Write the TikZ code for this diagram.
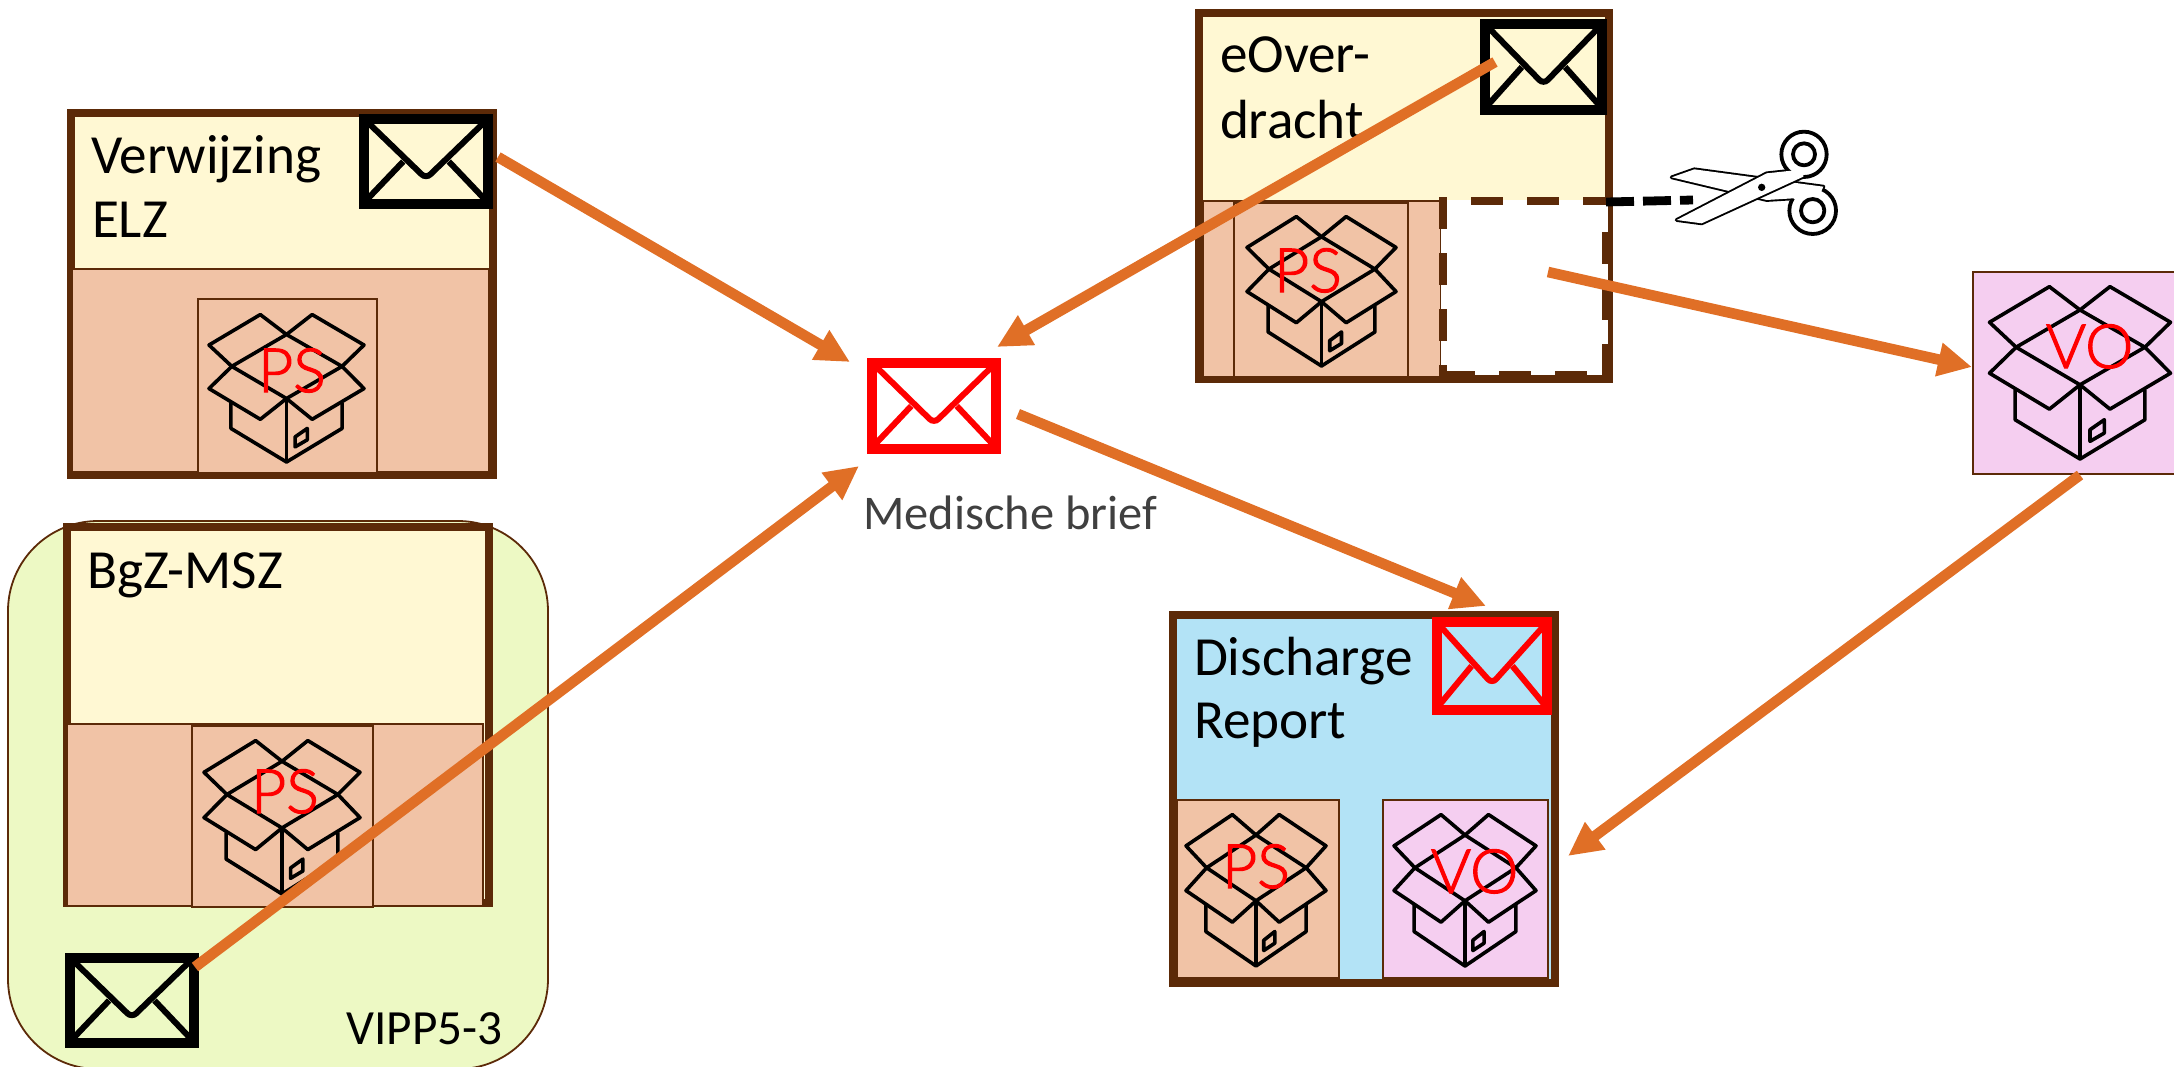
\documentclass[tikz,border=0pt]{standalone}
\usepackage{fontspec}
\setmainfont{Carlito}
\newfontfamily\lightf[FakeBold=2]{Lato Light}
\usetikzlibrary{arrows.meta,fit}
\definecolor{brownc}{HTML}{5C2A08}
\definecolor{yellowc}{HTML}{FFF8D3}
\definecolor{peachc}{HTML}{F1C3A6}
\definecolor{pinkc}{HTML}{F5CEF0}
\definecolor{bluec}{HTML}{B3E3F6}
\definecolor{greenc}{HTML}{EDF9C4}
\definecolor{orangec}{HTML}{E06F26}
\definecolor{greyc}{HTML}{404040}
\tikzset{
  rectbase/.style={inner sep=0pt,outer sep=0pt},
  frame/.style={rectbase,draw=brownc,line width=4pt},
  thinbox/.style={rectbase,draw=brownc,line width=1pt},
  title/.style={anchor=base west,inner sep=0pt,outer sep=0pt,align=left,font=\fontsize{27.6}{32}\selectfont},
  redlabel/.style={anchor=base west,inner sep=0pt,outer sep=0pt,text=red,font=\lightf\fontsize{30.5}{36}\selectfont},
  flow/.style={draw=orangec,line width=5.3pt,-{Triangle[length=17pt,width=16pt]}},
  iconline/.style={draw=black,line width=1.8pt,line join=round},
  cutdash/.style={draw=brownc,line width=4pt,dash pattern=on 16pt off 12pt},
  cutline/.style={draw=black,line width=4.4pt,dash pattern=on 14pt off 4.5pt},
  scissorline/.style={draw=black,line width=1.9pt,line join=round},
}
\newcommand{\bx}[6]{\node[#2,fit={(#3,#4)(#5,#6)}] (#1) {};}
\newcommand{\boxicon}[4]{%
  \begin{scope}[shift={(#1,#2)},xscale=#3/544,yscale=#4/520,shift={(-390,-338)}]
    \draw[iconline] (390,150)--(585,262)--(390,375)--(198,262)--cycle;
    \draw[iconline] (198,262)--(118,187)--(298,80)--(390,150)--(480,80)--(662,187)--(585,262);
    \draw[iconline] (198,262)--(118,340)--(298,448)--(390,375)--(480,448)--(662,340)--(585,262);
    \draw[iconline] (195,390)--(195,480)--(390,598)--(585,480)--(585,390);
    \draw[iconline] (390,375)--(390,598);
    \draw[iconline] (420,510)--(463,480)--(463,520)--(420,545)--cycle;
  \end{scope}}
\newcommand{\envl}[6]{% name, x0,y0,x1,y1, colour (outer rectangle)
  \node[rectbase,draw=#6,line width=5pt,fit={({#2+5},{#3+5})({#4-5},{#5-5})}] (#1) {};
  \begin{scope}[shift={(#2,#3)},xscale=(#4-#2)/100,yscale=(#5-#3)/100]
    \draw[#6,line width=3pt,rounded corners=3pt] (6,8)--(50,68)--(94,8);
    \draw[#6,line width=3pt] (6,90)--(33,50) (94,90)--(67,50);
  \end{scope}}
\begin{document}
\begin{tikzpicture}[x=.5pt,y=-.5pt]
\useasboundingbox (0,0) rectangle (2174,1066);
% VIPP container
\node[rectbase,draw=brownc,fill=greenc,line width=.9pt,rounded corners=45pt,fit={(8,521)(548,1069)}] (vipp) {};
% BgZ-MSZ
\bx{bgz}{frame,fill=yellowc}{67}{527}{489}{903}
\bx{bgzp}{thinbox,fill=peachc}{67}{724}{483}{906}
\bx{bgzps}{thinbox,fill=peachc}{192}{726}{372.5}{907}
\boxicon{282}{817}{156}{154}
\node[redlabel] (bgzpst) at (251,813) {PS};
\node[title] (bgzt) at (87,588) {BgZ-MSZ};
\envl{bgzenv}{65}{953}{198.6}{1048}{black}
\node[anchor=base west,inner sep=0pt,font=\fontsize{24.6}{30}\selectfont] (vippt) at (346,1044) {VIPP5-3};
% Verwijzing ELZ
\bx{elz}{frame,fill=yellowc}{71}{113}{493}{475}
\bx{elzp}{thinbox,fill=peachc}{72}{269}{489}{472}
\bx{elzps}{thinbox,fill=peachc}{197.5}{299}{377}{473}
\boxicon{286.5}{388}{155}{148}
\node[redlabel] (elzpst) at (258,392) {PS};
\node[title] (elzt) at (91,173) {Verwijzing};
\node[title] (elzt2) at (92,237) {ELZ};
\envl{elzenv}{359}{114}{493}{209}{black}
% eOverdracht
\bx{eov}{frame,fill=yellowc}{1199}{13}{1609}{379}
\bx{eovp}{thinbox,fill=peachc}{1203}{201}{1441}{377}
\bx{eovps}{thinbox,fill=peachc}{1234}{203}{1408}{377}
\boxicon{1321.5}{291}{149}{150}
\node[redlabel] (eovpst) at (1274,292) {PS};
\node[title] (eovt) at (1220,72) {eOver-};
\node[title] (eovt2) at (1220,138) {dracht};
\envl{eovenv}{1480}{19}{1607}{115}{black}
\fill[white] (1441,200) rectangle (1608,375);
\coordinate (cutA) at (1443,197); \coordinate (cutB) at (1443,377);
\coordinate (cutC) at (1471,201); \coordinate (cutD) at (1610,201);
\coordinate (cutE) at (1606,232); \coordinate (cutF) at (1606,375);
\coordinate (cutG) at (1443,375); \coordinate (cutH) at (1608,375);
\draw[cutdash] (cutA)--(cutB);
\draw[cutdash] (cutC)--(cutD);
\draw[cutdash] (cutE)--(cutF);
\draw[cutdash] (cutG)--(cutH);
% scissors
\coordinate (cutS) at (1606,202); \coordinate (cutT) at (1693,200);
\draw[cutline] (cutS)--(cutT);
\begin{scope}[shift={(1660,120)},scale=1/3]
  \draw[scissorline,fill=white] (35,172)--(103,148)--(430,192)--(490,200)--(458,272)--(400,235)--(320,240)--cycle;
  \draw[scissorline,fill=white] (458,272) circle (70);
  \fill[white] (35,172)--(103,148)--(430,192)--(490,200)--(458,272)--(400,235)--(320,240)--cycle;
  \draw[scissorline] (458,272) circle (35);
  \draw[scissorline,fill=white] (50,300)--(320,160)--(395,152)--(432,103)--(430,170)--(125,310)--cycle;
  \draw[scissorline,fill=white] (432,103) circle (68);
  \fill[white] (50,300)--(320,160)--(395,152)--(432,103)--(430,170)--(125,310)--cycle;
  \draw[scissorline] (432,103) circle (33);
  \fill[black] (305,202) circle (11);
\end{scope}
% Medische brief
\envl{mbenv}{867}{358}{1001}{454}{red}
\node[anchor=base west,inner sep=0pt,text=greyc,font=\fontsize{24.2}{30}\selectfont] (mbt) at (863,529) {Medische brief};
% Discharge report
\bx{dis}{frame,fill=bluec}{1173}{615}{1555}{983}
\bx{dispsb}{thinbox,fill=peachc}{1177}{800}{1339}{978}
\bx{disvob}{thinbox,fill=pinkc}{1383}{800}{1548}{978}
\boxicon{1256}{890}{140}{152}
\boxicon{1465}{890}{142}{152}
\node[redlabel] (dispst) at (1222,888) {PS};
\node[redlabel] (disvot) at (1431,893) {VO};
\node[title] (dist) at (1194,675) {Discharge};
\node[title] (dist2) at (1194,738) {Report};
\envl{disenv}{1432}{617}{1552}{715}{red}
% VO
\bx{vo}{thinbox,fill=pinkc}{1973}{272}{2200}{474}
\boxicon{2080}{372.5}{181}{173}
\node[redlabel] (vot) at (2046,368) {VO};
% arrows
\coordinate (a1s) at (498,157); \coordinate (a1e) at (850,362);
\coordinate (a2s) at (1495,62); \coordinate (a2e) at (997,347);
\coordinate (a3s) at (195,967); \coordinate (a3e) at (859,466);
\coordinate (a4s) at (1018,414); \coordinate (a4e) at (1486,606);
\coordinate (a5s) at (1548,272); \coordinate (a5e) at (1972,367);
\coordinate (a6s) at (2080,475); \coordinate (a6e) at (1568,856);
\draw[flow] (a1s)--(a1e);
\draw[flow] (a2s)--(a2e);
\draw[flow] (a3s)--(a3e);
\draw[flow] (a4s)--(a4e);
\draw[flow] (a5s)--(a5e);
\draw[flow] (a6s)--(a6e);
\end{tikzpicture}
\end{document}
